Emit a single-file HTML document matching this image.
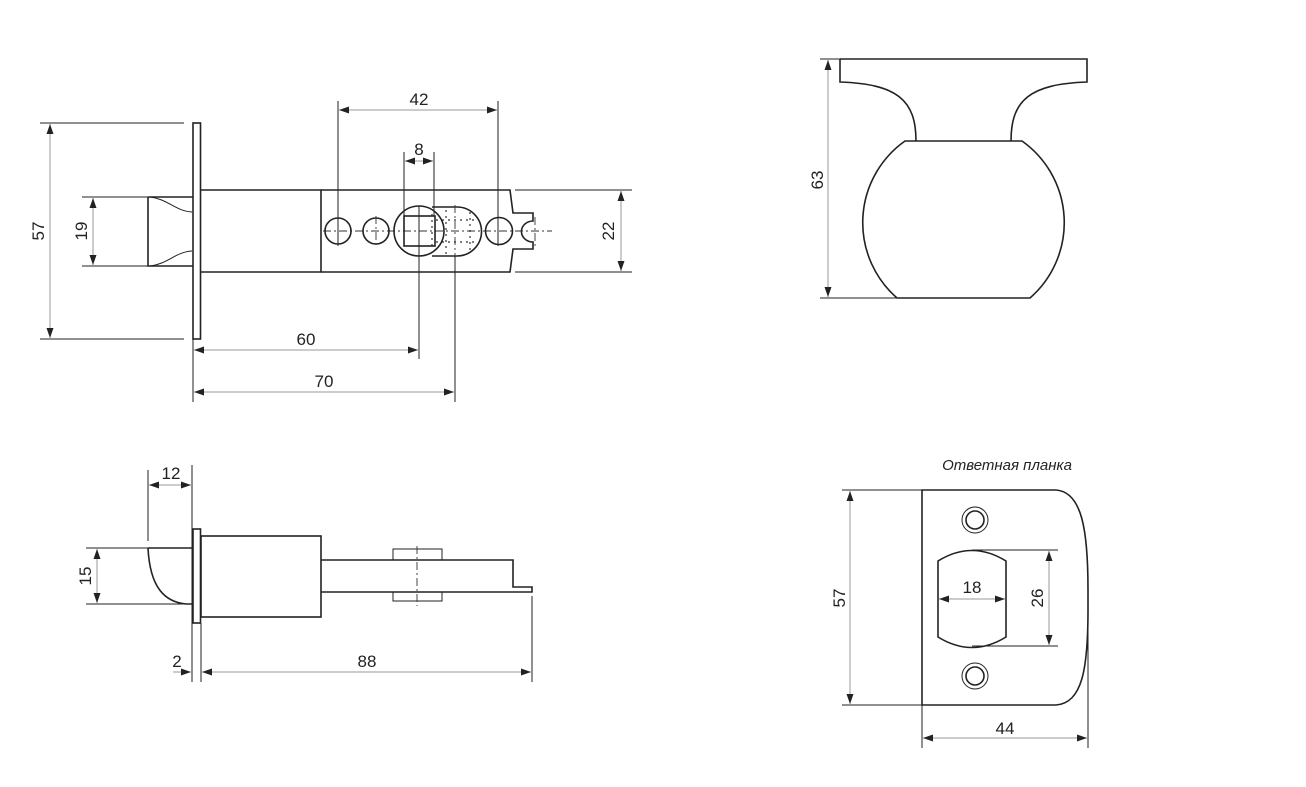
<!DOCTYPE html>
<html><head><meta charset="utf-8"><style>
html,body{margin:0;padding:0;background:#fff;}
svg{display:block;}
text{font-family:"Liberation Sans","DejaVu Sans",sans-serif;font-size:17px;fill:#222;}
.o{fill:none;stroke:#222;stroke-width:1.6;}
.d{fill:none;stroke:#999;stroke-width:1;}
.e{fill:none;stroke:#222;stroke-width:1;}
.c{fill:none;stroke:#333;stroke-width:0.9;stroke-dasharray:8,3,2,3;}
.dt{fill:none;stroke:#333;stroke-width:1.2;stroke-dasharray:2,4;}
</style></head><body>
<svg width="1306" height="787" viewBox="0 0 1306 787" xmlns="http://www.w3.org/2000/svg">
<defs>
<marker id="a" viewBox="0 0 10 10" refX="10" refY="5" markerWidth="10" markerHeight="10" markerUnits="userSpaceOnUse" orient="auto-start-reverse"><path d="M0,1.5 L10,5 L0,8.5 Z" fill="#222"/></marker>
</defs>

<!-- ===== TOP-LEFT VIEW ===== -->
<rect class="o" x="193" y="123" width="7.5" height="216"/>
<line class="e" x1="40" y1="123" x2="184" y2="123"/>
<line class="e" x1="40" y1="339" x2="184" y2="339"/>
<line class="d" x1="50" y1="124" x2="50" y2="338" marker-start="url(#a)" marker-end="url(#a)"/>
<text transform="translate(44,231) rotate(-90)" text-anchor="middle">57</text>

<path class="o" d="M148,197 H193 M148,197 V266 H193"/>
<path class="e" d="M150,197 C168,199 175,211 192,212 M150,266 C168,264 175,252 192,251"/>
<line class="e" x1="82" y1="197" x2="148" y2="197"/>
<line class="e" x1="82" y1="266" x2="148" y2="266"/>
<line class="d" x1="93" y1="198" x2="93" y2="265" marker-start="url(#a)" marker-end="url(#a)"/>
<text transform="translate(87,231) rotate(-90)" text-anchor="middle">19</text>

<path class="o" d="M201,190 H321 V272 H201"/>
<path class="o" d="M321,190 H510 L513,213 H533 V221 A11,10 0 0 0 533,242 V249 H513 L510,272 H321"/>
<line class="e" x1="515" y1="190" x2="632" y2="190"/>
<line class="e" x1="515" y1="272" x2="632" y2="272"/>
<line class="d" x1="621" y1="191" x2="621" y2="271" marker-start="url(#a)" marker-end="url(#a)"/>
<text transform="translate(614,231) rotate(-90)" text-anchor="middle">22</text>

<line class="c" x1="323" y1="231" x2="552" y2="231"/>
<circle class="o" cx="338" cy="231" r="13"/>
<circle class="o" cx="376" cy="231" r="13"/>
<line class="c" x1="376" y1="216" x2="376" y2="247"/>
<path class="dt" d="M446,210 V254 M470,212 V252 M432,214 V250 M436,220 H478 M436,242 H478"/>
<circle class="o" cx="419" cy="231" r="25"/>
<path class="o" d="M432,207 H457 A24.5,24.5 0 0 1 457,256 H432"/>
<rect class="o" x="404" y="216" width="31" height="30"/>
<circle class="o" cx="499" cy="231" r="13.5"/>
<line class="c" x1="535" y1="217" x2="535" y2="246"/>
<line class="c" x1="455" y1="205" x2="455" y2="258"/>

<line class="e" x1="338" y1="101" x2="338" y2="246"/>
<line class="e" x1="498" y1="101" x2="498" y2="246"/>
<line class="d" x1="339" y1="110" x2="497" y2="110" marker-start="url(#a)" marker-end="url(#a)"/>
<text x="419" y="105" text-anchor="middle">42</text>
<line class="e" x1="404" y1="152" x2="404" y2="216"/>
<line class="e" x1="434" y1="152" x2="434" y2="216"/>
<line class="d" x1="405" y1="161" x2="433" y2="161" marker-start="url(#a)" marker-end="url(#a)"/>
<text x="419" y="155" text-anchor="middle">8</text>
<line class="e" x1="419" y1="206" x2="419" y2="359"/>
<line class="e" x1="455" y1="256" x2="455" y2="402"/>
<line class="e" x1="193" y1="339" x2="193" y2="402"/>
<line class="d" x1="194" y1="350" x2="418" y2="350" marker-start="url(#a)" marker-end="url(#a)"/>
<text x="306" y="345" text-anchor="middle">60</text>
<line class="d" x1="194" y1="392" x2="454" y2="392" marker-start="url(#a)" marker-end="url(#a)"/>
<text x="324" y="387" text-anchor="middle">70</text>

<!-- ===== BOTTOM-LEFT VIEW ===== -->
<rect class="o" x="193" y="529" width="7.5" height="94"/>
<rect class="o" x="201" y="536" width="120" height="81"/>
<path class="o" d="M321,560 H513 V587 H532 V592 H321"/>
<rect class="e" x="393" y="549" width="49" height="11"/>
<rect class="e" x="393" y="592" width="49" height="9"/>
<line class="c" x1="417" y1="546" x2="417" y2="606"/>
<path class="o" d="M148,548 H193 M193,604 H186 C165,602 150,588 148,548"/>
<line class="e" x1="86" y1="548" x2="148" y2="548"/>
<line class="e" x1="86" y1="604" x2="186" y2="604"/>
<line class="d" x1="97" y1="549" x2="97" y2="603" marker-start="url(#a)" marker-end="url(#a)"/>
<text transform="translate(91,576) rotate(-90)" text-anchor="middle">15</text>
<line class="e" x1="148" y1="470" x2="148" y2="541"/>
<line class="e" x1="192" y1="465" x2="192" y2="682"/>
<line class="d" x1="149" y1="485" x2="191" y2="485" marker-start="url(#a)" marker-end="url(#a)"/>
<text x="171" y="479" text-anchor="middle">12</text>
<line class="e" x1="201" y1="623" x2="201" y2="682"/>
<line class="e" x1="532" y1="596" x2="532" y2="682"/>
<line class="d" x1="173" y1="672" x2="191" y2="672" marker-end="url(#a)"/>
<text x="177" y="667" text-anchor="middle">2</text>
<line class="d" x1="202" y1="672" x2="531" y2="672" marker-start="url(#a)" marker-end="url(#a)"/>
<text x="367" y="667" text-anchor="middle">88</text>

<!-- ===== KNOB ===== -->
<path class="o" d="M840,59 H1087 V82 C1030,84 1011,100 1011,141 M840,59 V82 C897,84 916,100 916,141"/>
<path class="o" d="M905,141 H1022 A100,100 0 0 1 1030,298 H897 A100,100 0 0 1 905,141 Z"/>
<line class="e" x1="820" y1="59" x2="840" y2="59"/>
<line class="e" x1="820" y1="298" x2="897" y2="298"/>
<line class="d" x1="828" y1="60" x2="828" y2="297" marker-start="url(#a)" marker-end="url(#a)"/>
<text transform="translate(823,180) rotate(-90)" text-anchor="middle">63</text>

<!-- ===== STRIKE PLATE ===== -->
<text x="1007" y="470" text-anchor="middle" style="font-style:italic;font-size:15px;">Ответная планка</text>
<path class="o" d="M922,490 H1056 C1082,492 1088,530 1088,590 V610 C1088,670 1082,703 1056,705 H922 Z"/>
<circle class="e" cx="975" cy="520" r="13"/>
<circle class="o" cx="975" cy="520" r="9"/>
<circle class="e" cx="975" cy="676" r="13"/>
<circle class="o" cx="975" cy="676" r="9"/>
<path class="o" d="M938,561 Q972,540 1006,561 V637 Q972,658 938,637 Z"/>
<line class="e" x1="972" y1="550" x2="1058" y2="550"/>
<line class="e" x1="972" y1="646" x2="1058" y2="646"/>
<line class="d" x1="1049" y1="551" x2="1049" y2="645" marker-start="url(#a)" marker-end="url(#a)"/>
<text transform="translate(1043,598) rotate(-90)" text-anchor="middle">26</text>
<line class="d" x1="939" y1="599" x2="1005" y2="599" marker-start="url(#a)" marker-end="url(#a)"/>
<text x="972" y="593" text-anchor="middle">18</text>
<line class="e" x1="842" y1="490" x2="922" y2="490"/>
<line class="e" x1="842" y1="705" x2="922" y2="705"/>
<line class="d" x1="850" y1="491" x2="850" y2="704" marker-start="url(#a)" marker-end="url(#a)"/>
<text transform="translate(845,598) rotate(-90)" text-anchor="middle">57</text>
<line class="e" x1="922" y1="705" x2="922" y2="748"/>
<line class="e" x1="1088" y1="610" x2="1088" y2="748"/>
<line class="d" x1="923" y1="738" x2="1087" y2="738" marker-start="url(#a)" marker-end="url(#a)"/>
<text x="1005" y="734" text-anchor="middle">44</text>
</svg>
</body></html>
